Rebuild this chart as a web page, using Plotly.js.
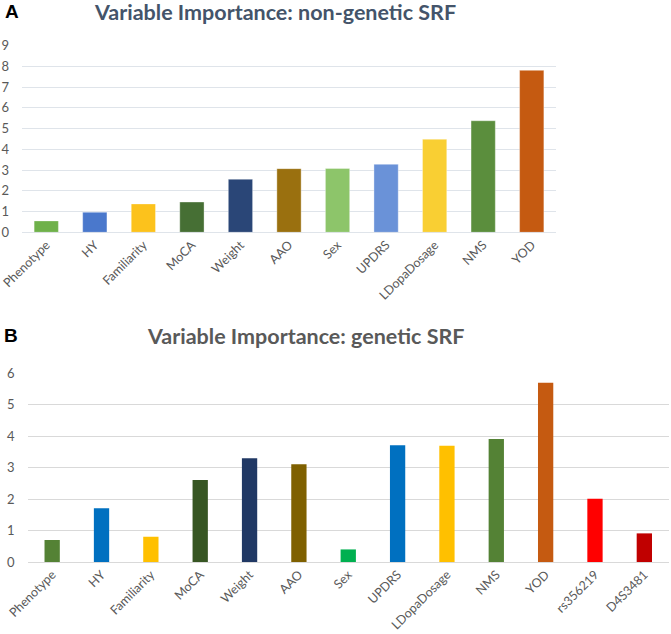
<!DOCTYPE html>
<html>
<head>
<meta charset="utf-8">
<script src="https://cdn.plot.ly/plotly-3.0.1.min.js"></script>
<style>html,body{margin:0;padding:0;background:#fff}#chart{width:671px;height:634px}</style>
</head>
<body>
<div id="chart"></div>
<script>
// Panel A: non-genetic SRF
const catsA = ["Phenotype","HY","Familiarity","MoCA","Weight","AAO","Sex","UPDRS","LDopaDosage","NMS","YOD"];
const valsA = [0.55, 0.97, 1.37, 1.46, 2.56, 3.07, 3.08, 3.28, 4.49, 5.38, 7.81];
const colorsA = ["#6fb14a","#4a78cc","#fcc21c","#466f34","#2a4677","#9a700f","#8dc56a","#6a92d8","#f9cf33","#5b8e3d","#c55a11"];
const ticksA = [0,1,2,3,4,5,6,7,8,9];

// Panel B: genetic SRF
const catsB = ["Phenotype","HY","Familiarity","MoCA","Weight","AAO","Sex","UPDRS","LDopaDosage","NMS","YOD","rs356219","D4S3481"];
const valsB = [0.70, 1.71, 0.80, 2.61, 3.30, 3.11, 0.40, 3.71, 3.70, 3.91, 5.70, 2.01, 0.91];
const colorsB = ["#548235","#0070c0","#ffc000","#375623","#203864","#7f6000","#00b050","#0070c0","#ffc000","#548235","#c55a11","#ff0000","#c00000"];
const ticksB = [0,1,2,3,4,5,6];

const tickFont = {family:"Lato, Open Sans, sans-serif", size:12.5, color:"#595959"};
const yTickFont = {family:"Lato, Open Sans, sans-serif", size:13, color:"#595959"};
const titleFontFamily = "Lato, Open Sans, sans-serif";

const traceA = {
  type:"bar", x:catsA, y:valsA, xaxis:"x", yaxis:"y", width:0.5,
  marker:{color:colorsA, line:{color:"rgba(255,255,255,0.35)", width:1}},
  hoverinfo:"x+y"
};
const traceB = {
  type:"bar", x:catsB, y:valsB, xaxis:"x2", yaxis:"y2", width:0.31,
  marker:{color:colorsB, line:{width:0}},
  hoverinfo:"x+y"
};

const layout = {
  width:671, height:634,
  margin:{l:0,r:0,t:0,b:0},
  paper_bgcolor:"#ffffff", plot_bgcolor:"#ffffff",
  showlegend:false,
  bargap:0.5,
  xaxis:{domain:[22/671,556/671], anchor:"y", type:"category", range:[-0.5,10.5],
         tickangle:-45, tickfont:tickFont, showgrid:false, zeroline:false, showline:false, ticks:"", ticklabelstandoff:2, fixedrange:true},
  yaxis:{domain:[401.7/634,588.3/634], anchor:"x", range:[0,9], tickvals:ticksA,
         tickfont:yTickFont, gridcolor:"#dfe4ea", gridwidth:1, zeroline:true, zerolinecolor:"#dfe4ea", zerolinewidth:1,
         showline:false, ticks:"", ticklabelstandoff:12, fixedrange:true},
  xaxis2:{domain:[27.5/671,669/671], anchor:"y2", type:"category", range:[-0.5,12.5],
         tickangle:-45, tickfont:tickFont, showgrid:false, zeroline:false, showline:false, ticks:"", ticklabelstandoff:2, fixedrange:true},
  yaxis2:{domain:[72/634,260.7/634], anchor:"x2", range:[0,6], tickvals:ticksB,
         tickfont:yTickFont, gridcolor:"#d9d9d9", gridwidth:1, zeroline:true, zerolinecolor:"#d9d9d9", zerolinewidth:1,
         showline:false, ticks:"", ticklabelstandoff:12, fixedrange:true},
  annotations:[
    {text:"<b>Variable Importance: non-genetic SRF</b>", xref:"paper", yref:"paper", x:275/671, y:(634-12)/634,
     xanchor:"center", yanchor:"middle", showarrow:false, font:{family:titleFontFamily, size:21.5, color:"#44546a"}},
    {text:"<b>Variable Importance: genetic SRF</b>", xref:"paper", yref:"paper", x:305/671, y:(634-336)/634,
     xanchor:"center", yanchor:"middle", showarrow:false, font:{family:titleFontFamily, size:21.5, color:"#595959"}},
    {text:"<b>A</b>", xref:"paper", yref:"paper", x:3/671, y:(634-11.5)/634,
     xanchor:"left", yanchor:"middle", showarrow:false, font:{family:"Liberation Sans, Arial, sans-serif", size:19, color:"#000000"}},
    {text:"<b>B</b>", xref:"paper", yref:"paper", x:2/671, y:(634-335)/634,
     xanchor:"left", yanchor:"middle", showarrow:false, font:{family:"Liberation Sans, Arial, sans-serif", size:19, color:"#000000"}}
  ]
};

Plotly.newPlot("chart", [traceA, traceB], layout, {displayModeBar:false, staticPlot:true});
</script>
</body>
</html>
